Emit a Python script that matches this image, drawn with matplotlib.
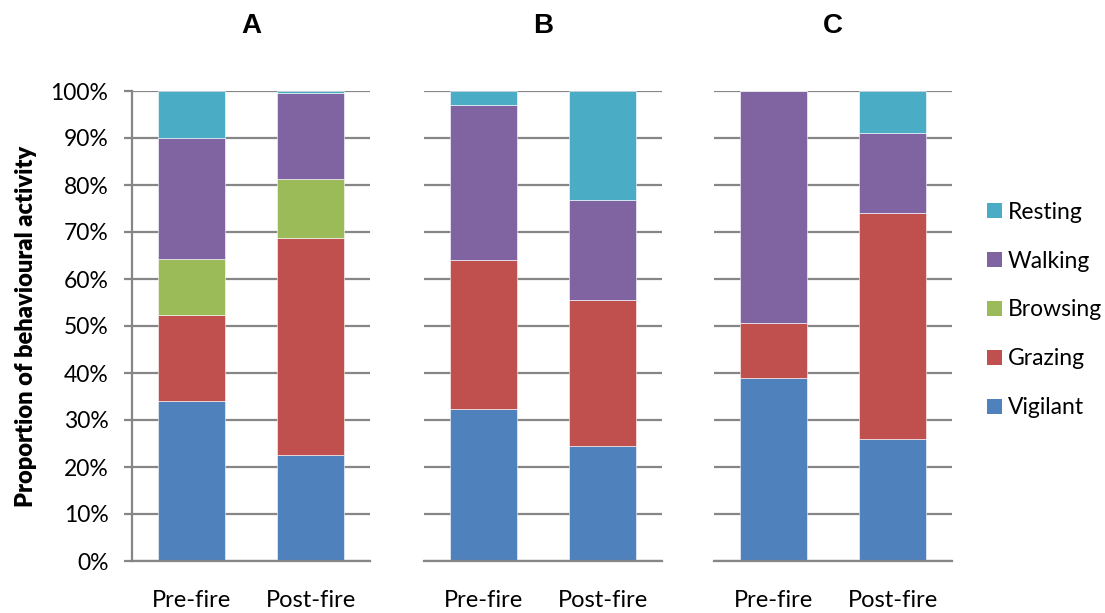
import matplotlib.pyplot as plt
import numpy as np
from matplotlib.patches import Patch

plt.rcParams['font.family'] = ['Lato', 'DejaVu Sans']

PANELS = ['A', 'B', 'C']
PERIODS = ['Pre-fire', 'Post-fire']
BEHAVIOURS = ['Vigilant', 'Grazing', 'Browsing', 'Walking', 'Resting']
COLOURS = ['#4F81BD', '#C0504D', '#9BBB59', '#8064A2', '#4BACC6']

# percentage of time per behaviour, [pre-fire, post-fire]
vigilant = {'A': [34.0, 22.6], 'B': [32.3, 24.5], 'C': [38.9, 26.0]}
grazing = {'A': [18.3, 46.1], 'B': [31.7, 31.0], 'C': [11.7, 48.0]}
browsing = {'A': [12.0, 12.6], 'B': [0.0, 0.0], 'C': [0.0, 0.0]}
walking = {'A': [25.7, 18.3], 'B': [33.0, 21.3], 'C': [49.4, 17.1]}
resting = {'A': [10.0, 0.4], 'B': [3.0, 23.2], 'C': [0.0, 8.9]}

SERIES = [vigilant, grazing, browsing, walking, resting]
GRID = '#868686'


def draw_panel(ax, panel, first):
    x = np.arange(len(PERIODS))
    bottom = np.zeros(len(PERIODS))
    ax.set_axisbelow(True)
    for series, colour in zip(SERIES, COLOURS):
        vals = np.array(series[panel])
        ax.bar(x, vals, 0.565, bottom=bottom, color=colour,
               edgecolor='white', linewidth=0.4, zorder=2)
        bottom += vals
    ax.set_xlim(-0.5, 1.5)
    ax.set_ylim(0, 100)
    ax.set_yticks(np.arange(0, 101, 10))
    ax.yaxis.grid(True, color=GRID, linewidth=1.6)
    ax.set_xticks(x)
    ax.set_xticklabels(PERIODS, fontsize=17)
    ax.tick_params(axis='x', length=0, pad=21)
    for side in ['top', 'right']:
        ax.spines[side].set_visible(False)
    ax.spines['bottom'].set_color(GRID)
    ax.spines['bottom'].set_linewidth(1.6)
    if first:
        ax.spines['left'].set_color(GRID)
        ax.spines['left'].set_linewidth(1.6)
        ax.set_yticklabels(['%d%%' % v for v in range(0, 101, 10)], fontsize=16.5)
        ax.tick_params(axis='y', length=6, width=1.6, color=GRID, pad=11)
        ax.set_ylabel('Proportion of behavioural activity', fontsize=17,
                      fontweight='heavy', labelpad=10)
    else:
        ax.spines['left'].set_visible(False)
        ax.tick_params(axis='y', length=0, labelleft=False)
    ax.set_title(panel, fontsize=20, fontweight='bold', pad=42,
                 family='Liberation Sans')


def main():
    fig = plt.figure(figsize=(11.05, 6.13), dpi=100)
    W, H = 1105, 613
    lefts = [132, 424, 714]
    for i, panel in enumerate(PANELS):
        ax = fig.add_axes([lefts[i] / W, 1 - 561 / H, 238 / W, 470 / H])
        draw_panel(ax, panel, i == 0)

    handles = [Patch(facecolor=c, edgecolor='none') for c in COLOURS][::-1]
    fig.legend(handles, BEHAVIOURS[::-1], loc='center left',
               bbox_to_anchor=(987 / W, 1 - 310 / H), frameon=False,
               fontsize=16.5, handlelength=0.65, handleheight=0.65,
               handletextpad=0.26, labelspacing=1.22,
               borderpad=0, borderaxespad=0)
    fig.savefig('out.png', dpi=100)


if __name__ == '__main__':
    main()
